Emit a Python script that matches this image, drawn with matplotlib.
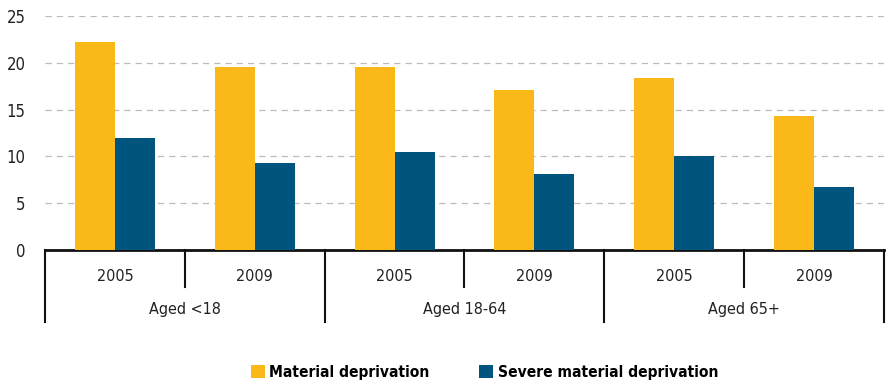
import matplotlib.pyplot as plt
import matplotlib.transforms as mtransforms
import numpy as np

# Data
groups = ['Aged <18', 'Aged 18-64', 'Aged 65+']
years = ['2005', '2009']
material = [22.2, 19.6, 19.5, 17.1, 18.4, 14.3]
severe = [12.0, 9.3, 10.5, 8.1, 10.0, 6.7]
series_names = ['Material deprivation', 'Severe material deprivation']
colors = ['#FBB819', '#00557F']

plt.rcParams['font.family'] = ['DejaVu Sans']
plt.rcParams['font.stretch'] = 'condensed'

fig = plt.figure(figsize=(8.86, 3.8), dpi=100)
ax = fig.add_axes([45 / 886, 130 / 380, 839 / 886, 234 / 380])

n = len(material)
x = np.arange(n)
w = 0.286
ax.bar(x - w / 2, material, width=w, color=colors[0], label=series_names[0], zorder=3)
ax.bar(x + w / 2, severe, width=w, color=colors[1], label=series_names[1], zorder=3)

ax.set_xlim(-0.5, n - 0.5)
ax.set_ylim(0, 25)
ax.set_yticks(range(0, 26, 5))
ax.tick_params(axis='y', length=0, labelsize=12, pad=14, colors='#222222')
ax.tick_params(axis='x', length=0, labelbottom=False)
ax.yaxis.grid(True, linestyle=(0, (5, 4)), color='#bbbbbb', linewidth=0.9, zorder=0)
for s in ['left', 'right', 'top']:
    ax.spines[s].set_visible(False)
ax.spines['bottom'].set_linewidth(2)
ax.spines['bottom'].set_color('#111111')

# Two-level category axis
trans = mtransforms.blended_transform_factory(ax.transData, ax.transAxes)
for i in range(n + 1):
    xs = i - 0.5
    bottom = -0.308 if i % 2 == 0 else -0.158
    ax.plot([xs, xs], [0, bottom], transform=trans, color='#111111',
            linewidth=1.5, clip_on=False)
for i in range(n):
    ax.text(i, -0.115, years[i % 2], transform=trans, ha='center', va='center',
            fontsize=11.5, color='#222222')
for g, name in enumerate(groups):
    ax.text(2 * g + 0.5, -0.256, name, transform=trans, ha='center', va='center',
            fontsize=11.5, color='#222222')

leg = fig.legend(loc='center', bbox_to_anchor=(0.547, 0.02), ncol=2, frameon=False,
                 handlelength=0.9, handleheight=0.9, handletextpad=0.3,
                 columnspacing=3.2, prop={'weight': 'bold', 'size': 11.2})

fig.savefig('out.png', dpi=100)
